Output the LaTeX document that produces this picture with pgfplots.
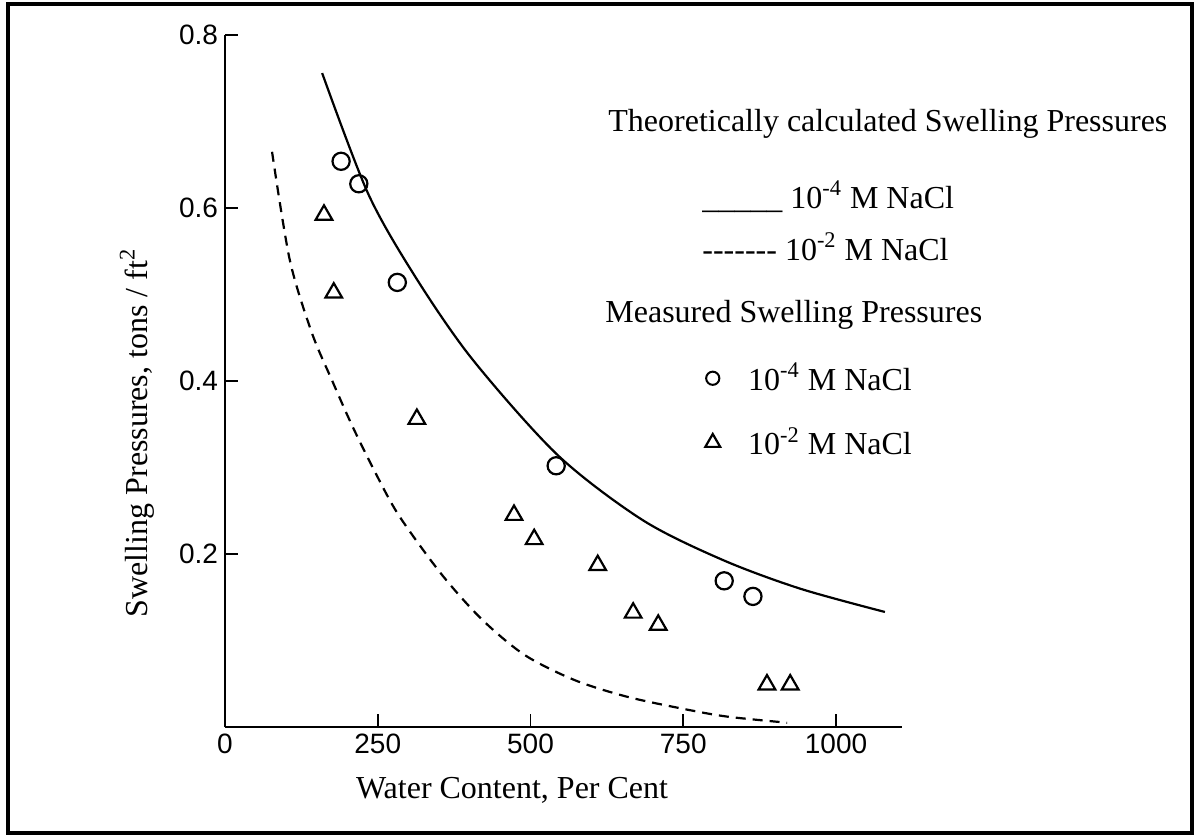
\documentclass[border=0pt]{standalone}
\usepackage{pgfplots}
\pgfplotsset{compat=1.18}
\usepackage{fontspec}
\setmainfont{Liberation Serif}
\newfontfamily\ticksans{Liberation Sans}

\begin{document}
\begin{tikzpicture}[x=1pt,y=1pt]
% page size and scanned frame
\path (0,0) rectangle (598.5,418.5);
\draw[line width=1.8pt] (4,2) rectangle (596,416.5);

\begin{axis}[
    at={(112.5pt,55pt)}, anchor=south west,
    scale only axis, width=338.5pt, height=346pt,
    xmin=0, xmax=1108, ymin=0, ymax=0.8,
    axis lines=left,
    axis line style={-, line width=1pt},
    xtick={0,250,500,750,1000},
    xticklabels={0,250,500,750,1000},
    ytick={0.2,0.4,0.6,0.8},
    yticklabels={0.2,0.4,0.6,0.8},
    tick align=inside,
    major tick length=6.5pt,
    tick style={line width=0.9pt, black},
    /pgf/number format/assume math mode=true,
    tick label style={font=\fontsize{14}{16}\selectfont\ticksans},
    label style={font=\fontsize{16}{19}\selectfont},
    xlabel={Water Content, Per Cent},
    ylabel={Swelling Pressures, tons / ft\textsuperscript{2}},
    xlabel style={at={(axis description cs:0.424,-0.091)}, anchor=center},
    ylabel style={at={(axis description cs:-0.13,0.425)}, anchor=center},
    legend style={draw=none, fill=none, font=\fontsize{16}{19}\selectfont,
        at={(axis description cs:0.70,0.538)}, anchor=north west, row sep=13pt},
    legend cell align=left,
    clip=false,
]
% theoretical, 10^-4 M NaCl
\addplot[smooth, line width=1.1pt, forget plot] coordinates {
    (159,0.756) (234,0.617) (311,0.521) (405,0.425) (545,0.314)
    (684,0.239) (815,0.193) (941,0.160) (1080,0.133)
};
% theoretical, 10^-2 M NaCl
\addplot[smooth, line width=1.1pt, dash pattern=on 5pt off 3.5pt, forget plot] coordinates {
    (77,0.665) (106,0.540) (142,0.456) (175,0.401) (209,0.347)
    (249,0.290) (286,0.243) (355,0.176) (421,0.124) (491,0.083)
    (573,0.054) (658,0.035) (750,0.021) (822,0.012) (920,0.005)
};
% measured, 10^-4 M NaCl
\addplot[only marks, mark=o, mark size=4.3pt, line width=1.1pt, forget plot] coordinates {
    (190,0.654) (219,0.628) (282,0.514) (542,0.302) (817,0.169) (864,0.151)
};
% measured, 10^-2 M NaCl
\addplot[only marks, mark=triangle, mark size=4.8pt, line width=1.1pt, forget plot] coordinates {
    (162,0.592) (178,0.502) (314,0.356) (473,0.245) (506,0.217)
    (610,0.187) (668,0.132) (709,0.118) (887,0.049) (925,0.049)
};
\addlegendimage{only marks, mark=o, mark size=3.3pt, line width=1pt}
\addlegendentry{\hspace{12pt}10\textsuperscript{-4} M NaCl}
\addlegendimage{only marks, mark=triangle, mark size=4.3pt, line width=1.1pt}
\addlegendentry{\hspace{12pt}10\textsuperscript{-2} M NaCl}
\end{axis}

\begin{scope}[every node/.style={font=\fontsize{16}{19}\selectfont, inner sep=0pt}]
\node[anchor=base west] at (304,352.5) {Theoretically calculated Swelling Pressures};
\node[anchor=base west] at (351,314.5) {\_\_\_\_\_ 10\textsuperscript{-4} M NaCl};
\node[anchor=base west] at (351,288.5) {-{}-{}-{}-{}-{}-{}- 10\textsuperscript{-2} M NaCl};
\node[anchor=base west] at (302.5,257.5) {Measured Swelling Pressures};
\end{scope}
\end{tikzpicture}
\end{document}
